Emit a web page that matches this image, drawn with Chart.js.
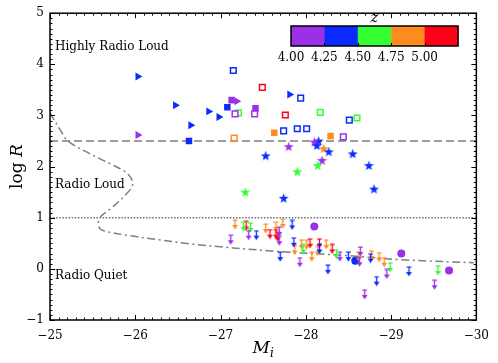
<!DOCTYPE html>
<html><head><meta charset="utf-8">
<script src="https://cdn.jsdelivr.net/npm/chart.js@4/dist/chart.umd.min.js"></script>
<style>html,body{margin:0;padding:0;background:#fff;}#wrap{width:498px;height:363px;}</style>
</head><body><div id="wrap"><canvas id="c" width="498" height="363"></canvas></div>
<script>
// ---- colour bins for redshift z ----
const zColors = ['#9B30E6', '#0A2AFF', '#33FF33', '#FF8C1E', '#FF0018'];
const zTickLabels = ['4.00', '4.25', '4.50', '4.75', '5.00'];
const xTickValues = [-25, -26, -27, -28, -29, -30];
const yTickValues = [-1, 0, 1, 2, 3, 4, 5];

// ---- right-pointing triangles ----
const triMi   = [-26.03, -27.81, -26.47, -26.86, -26.98, -26.65, -27.19, -26.03];
const triLogR = [3.76, 3.41, 3.20, 3.08, 2.97, 2.81, 3.28, 2.62];
const triZ    = [1, 1, 1, 1, 1, 1, 0, 0];

// ---- filled squares ----
const sqMi   = [-27.08, -26.63, -27.13, -27.41, -27.63, -28.29];
const sqLogR = [3.16, 2.50, 3.30, 3.14, 2.66, 2.60];
const sqZ    = [1, 1, 0, 0, 3, 3];

// ---- open squares ----
const osqMi   = [-27.15, -27.94, -27.74, -27.90, -28.01, -28.51, -27.49, -27.76, -27.21, -28.17, -28.60, -27.17, -27.40, -28.44, -27.16];
const osqLogR = [3.88, 3.34, 2.70, 2.74, 2.74, 2.91, 3.55, 3.01, 3.05, 3.06, 2.95, 3.03, 3.03, 2.58, 2.56];
const osqZ    = [1, 1, 1, 1, 1, 1, 4, 4, 2, 2, 2, 0, 0, 0, 3];

// ---- stars ----
const starMi   = [-27.80, -27.53, -28.15, -28.10, -28.13, -28.21, -28.27, -28.55, -28.19, -28.14, -28.74, -27.90, -27.29, -27.74, -28.80];
const starLogR = [2.39, 2.21, 2.50, 2.48, 2.41, 2.35, 2.29, 2.25, 2.12, 2.02, 2.02, 1.90, 1.50, 1.38, 1.56];
const starZ    = [0, 1, 1, 0, 1, 3, 1, 1, 0, 2, 1, 2, 2, 1, 1];

// ---- filled circles ----
const circMi   = [-28.10, -29.12, -29.68, -28.58];
const circLogR = [0.83, 0.30, -0.03, 0.16];
const circZ    = [0, 0, 0, 1];

// ---- upper limits (downward arrows) ----
const ulMi = [
  -27.17, -27.53, -27.65, -27.73, -27.95, -27.87, -28.01, -28.24, -28.14, -28.07, -28.62, -28.77, -28.86, -28.92,
  -27.30, -27.58, -27.65, -27.67, -28.05, -28.16, -28.31,
  -27.27, -27.35, -27.97, -28.36, -28.99, -29.55,
  -27.33, -27.12, -27.69, -27.69, -27.93, -28.40, -28.64, -28.63, -28.95, -28.69, -29.51,
  -27.42, -27.84, -27.86, -28.16, -27.70, -28.26, -28.50, -28.76, -29.21, -28.83];
const ulLogR = [
  0.87, 0.79, 0.83, 0.89, 0.48, 0.37, 0.47, 0.48, 0.35, 0.24, 0.24, 0.26, 0.23, 0.13,
  0.84, 0.68, 0.68, 0.63, 0.50, 0.50, 0.39,
  0.83, 0.81, 0.39, 0.29, 0.03, -0.03,
  0.66, 0.57, 0.73, 0.55, 0.13, 0.24, 0.34, 0.14, -0.10, -0.50, -0.31,
  0.66, 0.86, 0.52, 0.39, 0.24, -0.01, 0.24, 0.21, -0.05, -0.24];
const ulZ = [
  3, 3, 3, 3, 3, 3, 3, 3, 3, 3, 3, 3, 3, 3,
  4, 4, 4, 4, 4, 4, 4,
  2, 2, 2, 2, 2, 2,
  0, 0, 0, 0, 0, 0, 0, 0, 0, 0, 0,
  1, 1, 1, 1, 1, 1, 1, 1, 1, 1];

// ---- reference lines ----
const hrlLevel = 2.5;     // highly radio loud boundary
const rlLevel = 1.0;      // radio loud boundary
const lineMiRange = [-25, -30];
// distribution curve (dash-dot)
const curveMi   = [-25.00, -25.12, -25.21, -25.47, -25.70, -25.91, -25.97, -25.87, -25.72, -25.58, -25.58, -25.64, -25.93, -26.28, -26.63, -27.67, -28.49, -29.10, -29.97];
const curveLogR = [3.05, 2.72, 2.50, 2.25, 2.06, 1.86, 1.65, 1.42, 1.19, 0.99, 0.80, 0.74, 0.65, 0.57, 0.49, 0.34, 0.26, 0.18, 0.12];

// ---- region labels ----
const regionText = ['Highly Radio Loud', 'Radio Loud', 'Radio Quiet'];
const regionLogR = [4.34, 1.65, -0.13];

const FONT = "'DejaVu Serif', 'Liberation Serif', serif";

function pts(xs, ys) { return xs.map((v, i) => ({x: v, y: ys[i]})); }

function starCanvas(color) {
  const c = document.createElement('canvas'); c.width = 13; c.height = 13;
  const g = c.getContext('2d');
  g.beginPath();
  for (let i = 0; i < 10; i++) {
    const r = i % 2 ? 2.1 : 5.2;
    const a = -Math.PI / 2 + i * Math.PI / 5;
    g.lineTo(6.5 + r * Math.cos(a), 6.8 + r * Math.sin(a));
  }
  g.closePath(); g.fillStyle = color; g.fill();
  return c;
}
function arrowCanvas(color) {
  const c = document.createElement('canvas'); c.width = 7; c.height = 11;
  const g = c.getContext('2d');
  g.strokeStyle = color; g.fillStyle = color; g.lineWidth = 1.3;
  g.beginPath(); g.moveTo(1.2, 1.2); g.lineTo(5.8, 1.2); g.moveTo(3.5, 1.2); g.lineTo(3.5, 7); g.stroke();
  g.beginPath(); g.moveTo(0.6, 6); g.lineTo(6.4, 6); g.lineTo(3.5, 10.5); g.closePath(); g.fill();
  return c;
}
const starImgs = zColors.map(starCanvas);
const arrowImgs = zColors.map(arrowCanvas);

const lineStyle = {type: 'line', showLine: true, pointRadius: 0, fill: false, order: 10, borderColor: '#7f7f7f'};

const datasets = [
  Object.assign({}, lineStyle, {data: pts(lineMiRange, [hrlLevel, hrlLevel]), borderWidth: 1.5, borderDash: [8, 4]}),
  Object.assign({}, lineStyle, {data: pts(lineMiRange, [rlLevel, rlLevel]), borderWidth: 1.3, borderDash: [1.5, 1.6], borderColor: '#707070'}),
  Object.assign({}, lineStyle, {data: pts(curveMi, curveLogR), borderWidth: 1.5, borderDash: [8, 3.5, 2, 3.5], tension: 0.35}),
  {type: 'scatter', order: 1, data: pts(ulMi, ulLogR), pointStyle: c => arrowImgs[ulZ[c.dataIndex]], pointRadius: 5},
  {type: 'scatter', order: 1, data: pts(circMi, circLogR), pointStyle: 'circle', pointRadius: 4,
    pointBackgroundColor: circZ.map(z => zColors[z]), pointBorderWidth: 0},
  {type: 'scatter', order: 1, data: pts(starMi, starLogR), pointStyle: c => starImgs[starZ[c.dataIndex]], pointRadius: 6},
  {type: 'scatter', order: 1, data: pts(osqMi, osqLogR), pointStyle: 'rect', pointRadius: 4.0,
    pointBackgroundColor: '#ffffff', pointBorderColor: osqZ.map(z => zColors[z]), pointBorderWidth: 1.5},
  {type: 'scatter', order: 1, data: pts(sqMi, sqLogR), pointStyle: 'rect', pointRadius: 4.6,
    pointBackgroundColor: sqZ.map(z => zColors[z]), pointBorderWidth: 0},
  {type: 'scatter', order: 1, data: pts(triMi, triLogR), pointStyle: 'triangle', pointRotation: 90, pointRadius: 4.6,
    pointBackgroundColor: triZ.map(z => zColors[z]), pointBorderWidth: 0},
];

const fmt = v => (v < 0 ? '\u2212' + Math.abs(v) : String(v));

const overlay = {
  id: 'overlay',
  afterDraw(chart) {
    const {ctx, chartArea: a, scales: {x, y}} = chart;
    ctx.save();
    ctx.strokeStyle = '#000'; ctx.lineWidth = 1;
    // inward ticks, all four sides
    for (let i = -300; i <= -250; i++) {
      const px = Math.round(x.getPixelForValue(i / 10)) + 0.5;
      const L = (i % 10 === 0) ? 5 : 2.5;
      ctx.beginPath();
      ctx.moveTo(px, a.bottom); ctx.lineTo(px, a.bottom - L);
      ctx.moveTo(px, a.top); ctx.lineTo(px, a.top + L);
      ctx.stroke();
    }
    for (let i = -10; i <= 50; i++) {
      const py = Math.round(y.getPixelForValue(i / 10)) + 0.5;
      const L = (i % 10 === 0) ? 5 : 2.5;
      ctx.beginPath();
      ctx.moveTo(a.left, py); ctx.lineTo(a.left + L, py);
      ctx.moveTo(a.right, py); ctx.lineTo(a.right - L, py);
      ctx.stroke();
    }
    ctx.lineWidth = 1.5;
    ctx.strokeRect(a.left, a.top, a.right - a.left, a.bottom - a.top);

    // region labels
    ctx.fillStyle = '#000';
    ctx.font = '12px ' + FONT; ctx.textAlign = 'left'; ctx.textBaseline = 'middle';
    regionText.forEach((t, i) => ctx.fillText(t, a.left + 5, y.getPixelForValue(regionLogR[i])));

    // x axis title M_i
    const cx = (a.left + a.right) / 2;
    ctx.font = 'italic 17px ' + FONT;
    const wM = ctx.measureText('M').width;
    ctx.font = 'italic 12px ' + FONT;
    const wi = ctx.measureText('i').width;
    const x0 = cx - (wM + wi) / 2;
    ctx.textBaseline = 'alphabetic';
    ctx.font = 'italic 17px ' + FONT; ctx.fillText('M', x0, 353);
    ctx.font = 'italic 12px ' + FONT; ctx.fillText('i', x0 + wM, 357);

    // y axis title log R
    ctx.save();
    ctx.translate(18, (a.top + a.bottom) / 2);
    ctx.rotate(-Math.PI / 2);
    ctx.font = '17px ' + FONT;
    const wl = ctx.measureText('log ').width;
    ctx.font = 'italic 17px ' + FONT;
    const wR = ctx.measureText('R').width;
    ctx.textBaseline = 'middle';
    ctx.font = '17px ' + FONT; ctx.fillText('log ', -(wl + wR) / 2, 0);
    ctx.font = 'italic 17px ' + FONT; ctx.fillText('R', -(wl + wR) / 2 + wl, 0);
    ctx.restore();

    // colour bar
    const bx0 = 291, bx1 = 458, by0 = 26, by1 = 46;
    const sw = (bx1 - bx0) / zColors.length;
    zColors.forEach((c, i) => { ctx.fillStyle = c; ctx.fillRect(bx0 + i * sw, by0, sw + 0.5, by1 - by0); });
    ctx.strokeStyle = '#000'; ctx.lineWidth = 1;
    for (let i = 1; i < zColors.length; i++) {
      const px = Math.round(bx0 + i * sw) + 0.5;
      ctx.beginPath(); ctx.moveTo(px, by1); ctx.lineTo(px, by1 - 3); ctx.stroke();
    }
    ctx.lineWidth = 1.5; ctx.strokeRect(bx0, by0, bx1 - bx0, by1 - by0);
    ctx.fillStyle = '#000'; ctx.font = '12px ' + FONT; ctx.textAlign = 'center'; ctx.textBaseline = 'middle';
    zTickLabels.forEach((t, i) => ctx.fillText(t, bx0 + i * sw, 58));
    ctx.font = 'italic 15px ' + FONT; ctx.textBaseline = 'alphabetic';
    ctx.fillText('z', (bx0 + bx1) / 2, 22);
    ctx.restore();
  }
};

new Chart(document.getElementById('c'), {
  type: 'scatter',
  data: {datasets},
  options: {
    responsive: false, animation: false, devicePixelRatio: 1,
    layout: {padding: {left: 0, right: 18, top: 10, bottom: 0}},
    plugins: {legend: {display: false}, tooltip: {enabled: false}},
    scales: {
      x: {
        type: 'linear', min: -30, max: -25, reverse: true,
        afterFit: s => { s.height = 43; },
        afterBuildTicks: s => { s.ticks = xTickValues.map(v => ({value: v})); },
        grid: {display: false, drawTicks: false}, border: {display: false},
        ticks: {color: '#000', font: {family: FONT, size: 12}, padding: 9, callback: fmt, maxRotation: 0}
      },
      y: {
        type: 'linear', min: -1, max: 5,
        afterFit: s => { s.width = 50; },
        afterBuildTicks: s => { s.ticks = yTickValues.map(v => ({value: v})); },
        grid: {display: false, drawTicks: false}, border: {display: false},
        ticks: {color: '#000', font: {family: FONT, size: 12}, padding: 6, callback: fmt}
      }
    }
  },
  plugins: [overlay]
});
</script></body></html>
